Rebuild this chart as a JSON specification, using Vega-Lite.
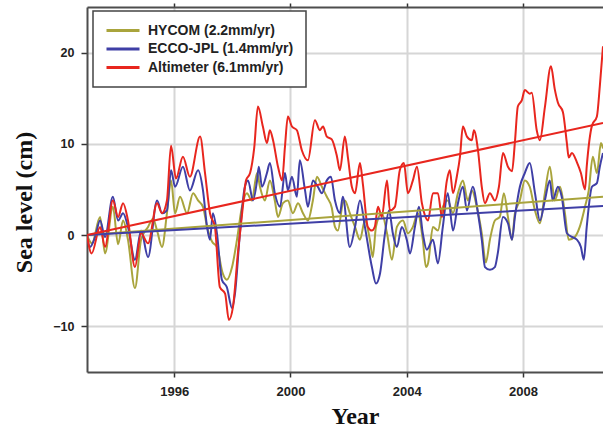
{
  "$schema": "https://vega.github.io/schema/vega-lite/v6.json",
  "width": 516,
  "height": 365,
  "autosize": {"type": "none"},
  "padding": {"left": 87, "top": 7, "right": 0, "bottom": 57},
  "background": "white",
  "datasets": {
    "series": [
      {"source": "HYCOM (2.2mm/yr)", "year": 1993.00, "level": 0.0},
      {"source": "HYCOM (2.2mm/yr)", "year": 1993.17, "level": -0.9},
      {"source": "HYCOM (2.2mm/yr)", "year": 1993.45, "level": 2.0},
      {"source": "HYCOM (2.2mm/yr)", "year": 1993.62, "level": -2.0},
      {"source": "HYCOM (2.2mm/yr)", "year": 1993.89, "level": 3.1},
      {"source": "HYCOM (2.2mm/yr)", "year": 1994.07, "level": -1.0},
      {"source": "HYCOM (2.2mm/yr)", "year": 1994.24, "level": 1.6},
      {"source": "HYCOM (2.2mm/yr)", "year": 1994.41, "level": -0.5},
      {"source": "HYCOM (2.2mm/yr)", "year": 1994.65, "level": -5.8},
      {"source": "HYCOM (2.2mm/yr)", "year": 1994.86, "level": -0.5},
      {"source": "HYCOM (2.2mm/yr)", "year": 1995.10, "level": 0.9},
      {"source": "HYCOM (2.2mm/yr)", "year": 1995.27, "level": 1.8},
      {"source": "HYCOM (2.2mm/yr)", "year": 1995.41, "level": 0.5},
      {"source": "HYCOM (2.2mm/yr)", "year": 1995.58, "level": -1.3},
      {"source": "HYCOM (2.2mm/yr)", "year": 1995.75, "level": 2.4},
      {"source": "HYCOM (2.2mm/yr)", "year": 1995.89, "level": 6.0},
      {"source": "HYCOM (2.2mm/yr)", "year": 1996.03, "level": 2.4},
      {"source": "HYCOM (2.2mm/yr)", "year": 1996.20, "level": 4.2},
      {"source": "HYCOM (2.2mm/yr)", "year": 1996.44, "level": 2.4},
      {"source": "HYCOM (2.2mm/yr)", "year": 1996.65, "level": 4.6},
      {"source": "HYCOM (2.2mm/yr)", "year": 1996.82, "level": 3.8},
      {"source": "HYCOM (2.2mm/yr)", "year": 1996.99, "level": 3.1},
      {"source": "HYCOM (2.2mm/yr)", "year": 1997.13, "level": 0.9},
      {"source": "HYCOM (2.2mm/yr)", "year": 1997.30, "level": -0.7},
      {"source": "HYCOM (2.2mm/yr)", "year": 1997.47, "level": -1.3},
      {"source": "HYCOM (2.2mm/yr)", "year": 1997.67, "level": -4.2},
      {"source": "HYCOM (2.2mm/yr)", "year": 1997.81, "level": -4.9},
      {"source": "HYCOM (2.2mm/yr)", "year": 1997.99, "level": -3.5},
      {"source": "HYCOM (2.2mm/yr)", "year": 1998.16, "level": -0.5},
      {"source": "HYCOM (2.2mm/yr)", "year": 1998.33, "level": 3.1},
      {"source": "HYCOM (2.2mm/yr)", "year": 1998.50, "level": 4.6},
      {"source": "HYCOM (2.2mm/yr)", "year": 1998.67, "level": 3.8},
      {"source": "HYCOM (2.2mm/yr)", "year": 1998.85, "level": 6.8},
      {"source": "HYCOM (2.2mm/yr)", "year": 1998.95, "level": 5.3},
      {"source": "HYCOM (2.2mm/yr)", "year": 1999.12, "level": 3.8},
      {"source": "HYCOM (2.2mm/yr)", "year": 1999.29, "level": 6.0},
      {"source": "HYCOM (2.2mm/yr)", "year": 1999.46, "level": 3.8},
      {"source": "HYCOM (2.2mm/yr)", "year": 1999.57, "level": 2.0},
      {"source": "HYCOM (2.2mm/yr)", "year": 1999.74, "level": 3.5},
      {"source": "HYCOM (2.2mm/yr)", "year": 1999.91, "level": 3.8},
      {"source": "HYCOM (2.2mm/yr)", "year": 2000.08, "level": 2.4},
      {"source": "HYCOM (2.2mm/yr)", "year": 2000.26, "level": 3.5},
      {"source": "HYCOM (2.2mm/yr)", "year": 2000.43, "level": 2.4},
      {"source": "HYCOM (2.2mm/yr)", "year": 2000.60, "level": 1.6},
      {"source": "HYCOM (2.2mm/yr)", "year": 2000.77, "level": 3.8},
      {"source": "HYCOM (2.2mm/yr)", "year": 2000.91, "level": 6.4},
      {"source": "HYCOM (2.2mm/yr)", "year": 2001.08, "level": 5.3},
      {"source": "HYCOM (2.2mm/yr)", "year": 2001.25, "level": 4.2},
      {"source": "HYCOM (2.2mm/yr)", "year": 2001.42, "level": 3.0},
      {"source": "HYCOM (2.2mm/yr)", "year": 2001.53, "level": 0.9},
      {"source": "HYCOM (2.2mm/yr)", "year": 2001.63, "level": 0.5},
      {"source": "HYCOM (2.2mm/yr)", "year": 2001.80, "level": 3.5},
      {"source": "HYCOM (2.2mm/yr)", "year": 2001.87, "level": 3.8},
      {"source": "HYCOM (2.2mm/yr)", "year": 2002.04, "level": 2.4},
      {"source": "HYCOM (2.2mm/yr)", "year": 2002.22, "level": 0.9},
      {"source": "HYCOM (2.2mm/yr)", "year": 2002.39, "level": -0.5},
      {"source": "HYCOM (2.2mm/yr)", "year": 2002.56, "level": 1.6},
      {"source": "HYCOM (2.2mm/yr)", "year": 2002.73, "level": -0.5},
      {"source": "HYCOM (2.2mm/yr)", "year": 2002.83, "level": -2.4},
      {"source": "HYCOM (2.2mm/yr)", "year": 2002.94, "level": 0.9},
      {"source": "HYCOM (2.2mm/yr)", "year": 2003.14, "level": 2.4},
      {"source": "HYCOM (2.2mm/yr)", "year": 2003.32, "level": 0.2},
      {"source": "HYCOM (2.2mm/yr)", "year": 2003.49, "level": -2.7},
      {"source": "HYCOM (2.2mm/yr)", "year": 2003.66, "level": 0.9},
      {"source": "HYCOM (2.2mm/yr)", "year": 2003.87, "level": 1.6},
      {"source": "HYCOM (2.2mm/yr)", "year": 2004.04, "level": 0.2},
      {"source": "HYCOM (2.2mm/yr)", "year": 2004.21, "level": 0.9},
      {"source": "HYCOM (2.2mm/yr)", "year": 2004.38, "level": 2.4},
      {"source": "HYCOM (2.2mm/yr)", "year": 2004.55, "level": -0.5},
      {"source": "HYCOM (2.2mm/yr)", "year": 2004.66, "level": -3.5},
      {"source": "HYCOM (2.2mm/yr)", "year": 2004.73, "level": -3.1},
      {"source": "HYCOM (2.2mm/yr)", "year": 2004.90, "level": 0.9},
      {"source": "HYCOM (2.2mm/yr)", "year": 2005.07, "level": 0.5},
      {"source": "HYCOM (2.2mm/yr)", "year": 2005.24, "level": 3.1},
      {"source": "HYCOM (2.2mm/yr)", "year": 2005.41, "level": 3.8},
      {"source": "HYCOM (2.2mm/yr)", "year": 2005.59, "level": 2.4},
      {"source": "HYCOM (2.2mm/yr)", "year": 2005.76, "level": 4.6},
      {"source": "HYCOM (2.2mm/yr)", "year": 2005.93, "level": 6.0},
      {"source": "HYCOM (2.2mm/yr)", "year": 2006.10, "level": 3.8},
      {"source": "HYCOM (2.2mm/yr)", "year": 2006.24, "level": 4.9},
      {"source": "HYCOM (2.2mm/yr)", "year": 2006.41, "level": 3.1},
      {"source": "HYCOM (2.2mm/yr)", "year": 2006.58, "level": 0.2},
      {"source": "HYCOM (2.2mm/yr)", "year": 2006.72, "level": -3.0},
      {"source": "HYCOM (2.2mm/yr)", "year": 2006.86, "level": -0.5},
      {"source": "HYCOM (2.2mm/yr)", "year": 2007.03, "level": 1.6},
      {"source": "HYCOM (2.2mm/yr)", "year": 2007.20, "level": 2.0},
      {"source": "HYCOM (2.2mm/yr)", "year": 2007.34, "level": 4.6},
      {"source": "HYCOM (2.2mm/yr)", "year": 2007.48, "level": 2.0},
      {"source": "HYCOM (2.2mm/yr)", "year": 2007.62, "level": -0.5},
      {"source": "HYCOM (2.2mm/yr)", "year": 2007.72, "level": 2.4},
      {"source": "HYCOM (2.2mm/yr)", "year": 2007.89, "level": 3.8},
      {"source": "HYCOM (2.2mm/yr)", "year": 2008.06, "level": 6.0},
      {"source": "HYCOM (2.2mm/yr)", "year": 2008.23, "level": 5.3},
      {"source": "HYCOM (2.2mm/yr)", "year": 2008.41, "level": 2.7},
      {"source": "HYCOM (2.2mm/yr)", "year": 2008.58, "level": 1.3},
      {"source": "HYCOM (2.2mm/yr)", "year": 2008.75, "level": 4.6},
      {"source": "HYCOM (2.2mm/yr)", "year": 2008.92, "level": 7.5},
      {"source": "HYCOM (2.2mm/yr)", "year": 2009.09, "level": 3.8},
      {"source": "HYCOM (2.2mm/yr)", "year": 2009.27, "level": 5.3},
      {"source": "HYCOM (2.2mm/yr)", "year": 2009.44, "level": 2.4},
      {"source": "HYCOM (2.2mm/yr)", "year": 2009.57, "level": -0.5},
      {"source": "HYCOM (2.2mm/yr)", "year": 2009.78, "level": -0.2},
      {"source": "HYCOM (2.2mm/yr)", "year": 2009.95, "level": 0.9},
      {"source": "HYCOM (2.2mm/yr)", "year": 2010.13, "level": 3.1},
      {"source": "HYCOM (2.2mm/yr)", "year": 2010.26, "level": 4.9},
      {"source": "HYCOM (2.2mm/yr)", "year": 2010.40, "level": 8.6},
      {"source": "HYCOM (2.2mm/yr)", "year": 2010.54, "level": 6.8},
      {"source": "HYCOM (2.2mm/yr)", "year": 2010.68, "level": 10.1},
      {"source": "HYCOM (2.2mm/yr)", "year": 2010.75, "level": 9.5},

      {"source": "ECCO-JPL (1.4mm/yr)", "year": 1993.00, "level": 0.0},
      {"source": "ECCO-JPL (1.4mm/yr)", "year": 1993.10, "level": -1.3},
      {"source": "ECCO-JPL (1.4mm/yr)", "year": 1993.28, "level": -0.2},
      {"source": "ECCO-JPL (1.4mm/yr)", "year": 1993.45, "level": 1.6},
      {"source": "ECCO-JPL (1.4mm/yr)", "year": 1993.62, "level": -0.2},
      {"source": "ECCO-JPL (1.4mm/yr)", "year": 1993.89, "level": 4.2},
      {"source": "ECCO-JPL (1.4mm/yr)", "year": 1994.07, "level": 1.6},
      {"source": "ECCO-JPL (1.4mm/yr)", "year": 1994.24, "level": 2.4},
      {"source": "ECCO-JPL (1.4mm/yr)", "year": 1994.41, "level": 0.9},
      {"source": "ECCO-JPL (1.4mm/yr)", "year": 1994.65, "level": -2.7},
      {"source": "ECCO-JPL (1.4mm/yr)", "year": 1994.86, "level": 0.5},
      {"source": "ECCO-JPL (1.4mm/yr)", "year": 1995.10, "level": -2.4},
      {"source": "ECCO-JPL (1.4mm/yr)", "year": 1995.41, "level": 3.8},
      {"source": "ECCO-JPL (1.4mm/yr)", "year": 1995.58, "level": 2.4},
      {"source": "ECCO-JPL (1.4mm/yr)", "year": 1995.75, "level": 2.7},
      {"source": "ECCO-JPL (1.4mm/yr)", "year": 1995.89, "level": 7.1},
      {"source": "ECCO-JPL (1.4mm/yr)", "year": 1996.03, "level": 5.3},
      {"source": "ECCO-JPL (1.4mm/yr)", "year": 1996.30, "level": 7.5},
      {"source": "ECCO-JPL (1.4mm/yr)", "year": 1996.54, "level": 4.9},
      {"source": "ECCO-JPL (1.4mm/yr)", "year": 1996.82, "level": 7.1},
      {"source": "ECCO-JPL (1.4mm/yr)", "year": 1996.99, "level": 4.9},
      {"source": "ECCO-JPL (1.4mm/yr)", "year": 1997.13, "level": 0.9},
      {"source": "ECCO-JPL (1.4mm/yr)", "year": 1997.23, "level": -0.5},
      {"source": "ECCO-JPL (1.4mm/yr)", "year": 1997.33, "level": 2.4},
      {"source": "ECCO-JPL (1.4mm/yr)", "year": 1997.47, "level": 0.2},
      {"source": "ECCO-JPL (1.4mm/yr)", "year": 1997.64, "level": -4.9},
      {"source": "ECCO-JPL (1.4mm/yr)", "year": 1997.81, "level": -5.7},
      {"source": "ECCO-JPL (1.4mm/yr)", "year": 1997.99, "level": -8.0},
      {"source": "ECCO-JPL (1.4mm/yr)", "year": 1998.09, "level": -6.4},
      {"source": "ECCO-JPL (1.4mm/yr)", "year": 1998.26, "level": 0.2},
      {"source": "ECCO-JPL (1.4mm/yr)", "year": 1998.43, "level": 5.3},
      {"source": "ECCO-JPL (1.4mm/yr)", "year": 1998.54, "level": 6.0},
      {"source": "ECCO-JPL (1.4mm/yr)", "year": 1998.71, "level": 3.8},
      {"source": "ECCO-JPL (1.4mm/yr)", "year": 1998.85, "level": 6.0},
      {"source": "ECCO-JPL (1.4mm/yr)", "year": 1998.91, "level": 7.5},
      {"source": "ECCO-JPL (1.4mm/yr)", "year": 1999.02, "level": 5.3},
      {"source": "ECCO-JPL (1.4mm/yr)", "year": 1999.19, "level": 6.8},
      {"source": "ECCO-JPL (1.4mm/yr)", "year": 1999.29, "level": 7.9},
      {"source": "ECCO-JPL (1.4mm/yr)", "year": 1999.46, "level": 4.6},
      {"source": "ECCO-JPL (1.4mm/yr)", "year": 1999.64, "level": 3.1},
      {"source": "ECCO-JPL (1.4mm/yr)", "year": 1999.81, "level": 6.8},
      {"source": "ECCO-JPL (1.4mm/yr)", "year": 1999.91, "level": 4.9},
      {"source": "ECCO-JPL (1.4mm/yr)", "year": 2000.05, "level": 6.4},
      {"source": "ECCO-JPL (1.4mm/yr)", "year": 2000.22, "level": 4.2},
      {"source": "ECCO-JPL (1.4mm/yr)", "year": 2000.32, "level": 8.2},
      {"source": "ECCO-JPL (1.4mm/yr)", "year": 2000.50, "level": 4.9},
      {"source": "ECCO-JPL (1.4mm/yr)", "year": 2000.60, "level": 3.1},
      {"source": "ECCO-JPL (1.4mm/yr)", "year": 2000.77, "level": 6.0},
      {"source": "ECCO-JPL (1.4mm/yr)", "year": 2000.94, "level": 5.3},
      {"source": "ECCO-JPL (1.4mm/yr)", "year": 2001.08, "level": 4.6},
      {"source": "ECCO-JPL (1.4mm/yr)", "year": 2001.25, "level": 6.0},
      {"source": "ECCO-JPL (1.4mm/yr)", "year": 2001.39, "level": 6.4},
      {"source": "ECCO-JPL (1.4mm/yr)", "year": 2001.53, "level": 3.8},
      {"source": "ECCO-JPL (1.4mm/yr)", "year": 2001.70, "level": 2.4},
      {"source": "ECCO-JPL (1.4mm/yr)", "year": 2001.80, "level": 4.2},
      {"source": "ECCO-JPL (1.4mm/yr)", "year": 2002.04, "level": -1.3},
      {"source": "ECCO-JPL (1.4mm/yr)", "year": 2002.22, "level": 0.9},
      {"source": "ECCO-JPL (1.4mm/yr)", "year": 2002.39, "level": 3.8},
      {"source": "ECCO-JPL (1.4mm/yr)", "year": 2002.56, "level": 0.9},
      {"source": "ECCO-JPL (1.4mm/yr)", "year": 2002.80, "level": -3.5},
      {"source": "ECCO-JPL (1.4mm/yr)", "year": 2002.94, "level": -5.3},
      {"source": "ECCO-JPL (1.4mm/yr)", "year": 2003.08, "level": -4.2},
      {"source": "ECCO-JPL (1.4mm/yr)", "year": 2003.25, "level": 0.2},
      {"source": "ECCO-JPL (1.4mm/yr)", "year": 2003.39, "level": 2.7},
      {"source": "ECCO-JPL (1.4mm/yr)", "year": 2003.52, "level": 0.2},
      {"source": "ECCO-JPL (1.4mm/yr)", "year": 2003.66, "level": -1.3},
      {"source": "ECCO-JPL (1.4mm/yr)", "year": 2003.83, "level": 0.9},
      {"source": "ECCO-JPL (1.4mm/yr)", "year": 2004.00, "level": -0.5},
      {"source": "ECCO-JPL (1.4mm/yr)", "year": 2004.11, "level": -2.0},
      {"source": "ECCO-JPL (1.4mm/yr)", "year": 2004.28, "level": 0.9},
      {"source": "ECCO-JPL (1.4mm/yr)", "year": 2004.42, "level": 3.1},
      {"source": "ECCO-JPL (1.4mm/yr)", "year": 2004.55, "level": 0.2},
      {"source": "ECCO-JPL (1.4mm/yr)", "year": 2004.69, "level": -1.6},
      {"source": "ECCO-JPL (1.4mm/yr)", "year": 2004.90, "level": -0.5},
      {"source": "ECCO-JPL (1.4mm/yr)", "year": 2005.07, "level": -3.1},
      {"source": "ECCO-JPL (1.4mm/yr)", "year": 2005.24, "level": 0.9},
      {"source": "ECCO-JPL (1.4mm/yr)", "year": 2005.41, "level": 4.6},
      {"source": "ECCO-JPL (1.4mm/yr)", "year": 2005.59, "level": 0.5},
      {"source": "ECCO-JPL (1.4mm/yr)", "year": 2005.76, "level": 3.5},
      {"source": "ECCO-JPL (1.4mm/yr)", "year": 2005.93, "level": 5.3},
      {"source": "ECCO-JPL (1.4mm/yr)", "year": 2006.07, "level": 2.7},
      {"source": "ECCO-JPL (1.4mm/yr)", "year": 2006.27, "level": 5.3},
      {"source": "ECCO-JPL (1.4mm/yr)", "year": 2006.45, "level": 2.4},
      {"source": "ECCO-JPL (1.4mm/yr)", "year": 2006.58, "level": -0.5},
      {"source": "ECCO-JPL (1.4mm/yr)", "year": 2006.69, "level": -3.5},
      {"source": "ECCO-JPL (1.4mm/yr)", "year": 2006.86, "level": -3.8},
      {"source": "ECCO-JPL (1.4mm/yr)", "year": 2007.03, "level": -3.5},
      {"source": "ECCO-JPL (1.4mm/yr)", "year": 2007.13, "level": -2.0},
      {"source": "ECCO-JPL (1.4mm/yr)", "year": 2007.31, "level": 2.0},
      {"source": "ECCO-JPL (1.4mm/yr)", "year": 2007.48, "level": 1.3},
      {"source": "ECCO-JPL (1.4mm/yr)", "year": 2007.62, "level": -0.5},
      {"source": "ECCO-JPL (1.4mm/yr)", "year": 2007.72, "level": 2.0},
      {"source": "ECCO-JPL (1.4mm/yr)", "year": 2007.89, "level": 5.3},
      {"source": "ECCO-JPL (1.4mm/yr)", "year": 2008.06, "level": 6.8},
      {"source": "ECCO-JPL (1.4mm/yr)", "year": 2008.23, "level": 7.9},
      {"source": "ECCO-JPL (1.4mm/yr)", "year": 2008.41, "level": 4.6},
      {"source": "ECCO-JPL (1.4mm/yr)", "year": 2008.58, "level": 1.6},
      {"source": "ECCO-JPL (1.4mm/yr)", "year": 2008.75, "level": 3.8},
      {"source": "ECCO-JPL (1.4mm/yr)", "year": 2008.92, "level": 6.0},
      {"source": "ECCO-JPL (1.4mm/yr)", "year": 2009.02, "level": 3.8},
      {"source": "ECCO-JPL (1.4mm/yr)", "year": 2009.20, "level": 5.3},
      {"source": "ECCO-JPL (1.4mm/yr)", "year": 2009.33, "level": 4.2},
      {"source": "ECCO-JPL (1.4mm/yr)", "year": 2009.51, "level": 0.2},
      {"source": "ECCO-JPL (1.4mm/yr)", "year": 2009.68, "level": -0.2},
      {"source": "ECCO-JPL (1.4mm/yr)", "year": 2009.85, "level": -0.5},
      {"source": "ECCO-JPL (1.4mm/yr)", "year": 2009.99, "level": -1.3},
      {"source": "ECCO-JPL (1.4mm/yr)", "year": 2010.09, "level": -2.7},
      {"source": "ECCO-JPL (1.4mm/yr)", "year": 2010.19, "level": 0.9},
      {"source": "ECCO-JPL (1.4mm/yr)", "year": 2010.37, "level": 5.3},
      {"source": "ECCO-JPL (1.4mm/yr)", "year": 2010.54, "level": 5.7},
      {"source": "ECCO-JPL (1.4mm/yr)", "year": 2010.64, "level": 7.5},
      {"source": "ECCO-JPL (1.4mm/yr)", "year": 2010.75, "level": 9.0},

      {"source": "Altimeter (6.1mm/yr)", "year": 1993.00, "level": 0.0},
      {"source": "Altimeter (6.1mm/yr)", "year": 1993.16, "level": -2.0},
      {"source": "Altimeter (6.1mm/yr)", "year": 1993.45, "level": 0.9},
      {"source": "Altimeter (6.1mm/yr)", "year": 1993.62, "level": -1.3},
      {"source": "Altimeter (6.1mm/yr)", "year": 1993.89, "level": 3.8},
      {"source": "Altimeter (6.1mm/yr)", "year": 1994.07, "level": 2.0},
      {"source": "Altimeter (6.1mm/yr)", "year": 1994.24, "level": 3.5},
      {"source": "Altimeter (6.1mm/yr)", "year": 1994.41, "level": 1.6},
      {"source": "Altimeter (6.1mm/yr)", "year": 1994.65, "level": -3.5},
      {"source": "Altimeter (6.1mm/yr)", "year": 1994.86, "level": 0.2},
      {"source": "Altimeter (6.1mm/yr)", "year": 1995.10, "level": -0.9},
      {"source": "Altimeter (6.1mm/yr)", "year": 1995.41, "level": 3.5},
      {"source": "Altimeter (6.1mm/yr)", "year": 1995.58, "level": 2.4},
      {"source": "Altimeter (6.1mm/yr)", "year": 1995.75, "level": 3.8},
      {"source": "Altimeter (6.1mm/yr)", "year": 1995.89, "level": 9.8},
      {"source": "Altimeter (6.1mm/yr)", "year": 1996.06, "level": 6.2},
      {"source": "Altimeter (6.1mm/yr)", "year": 1996.30, "level": 8.6},
      {"source": "Altimeter (6.1mm/yr)", "year": 1996.54, "level": 6.4},
      {"source": "Altimeter (6.1mm/yr)", "year": 1996.89, "level": 10.8},
      {"source": "Altimeter (6.1mm/yr)", "year": 1997.06, "level": 6.8},
      {"source": "Altimeter (6.1mm/yr)", "year": 1997.23, "level": 2.4},
      {"source": "Altimeter (6.1mm/yr)", "year": 1997.40, "level": 0.9},
      {"source": "Altimeter (6.1mm/yr)", "year": 1997.57, "level": -5.7},
      {"source": "Altimeter (6.1mm/yr)", "year": 1997.75, "level": -6.4},
      {"source": "Altimeter (6.1mm/yr)", "year": 1997.88, "level": -9.3},
      {"source": "Altimeter (6.1mm/yr)", "year": 1998.02, "level": -7.9},
      {"source": "Altimeter (6.1mm/yr)", "year": 1998.19, "level": -2.0},
      {"source": "Altimeter (6.1mm/yr)", "year": 1998.36, "level": 3.1},
      {"source": "Altimeter (6.1mm/yr)", "year": 1998.47, "level": 6.0},
      {"source": "Altimeter (6.1mm/yr)", "year": 1998.61, "level": 6.8},
      {"source": "Altimeter (6.1mm/yr)", "year": 1998.75, "level": 9.5},
      {"source": "Altimeter (6.1mm/yr)", "year": 1998.88, "level": 14.1},
      {"source": "Altimeter (6.1mm/yr)", "year": 1999.05, "level": 11.9},
      {"source": "Altimeter (6.1mm/yr)", "year": 1999.19, "level": 10.1},
      {"source": "Altimeter (6.1mm/yr)", "year": 1999.29, "level": 11.5},
      {"source": "Altimeter (6.1mm/yr)", "year": 1999.40, "level": 10.4},
      {"source": "Altimeter (6.1mm/yr)", "year": 1999.57, "level": 7.5},
      {"source": "Altimeter (6.1mm/yr)", "year": 1999.71, "level": 6.0},
      {"source": "Altimeter (6.1mm/yr)", "year": 1999.81, "level": 9.7},
      {"source": "Altimeter (6.1mm/yr)", "year": 1999.91, "level": 13.0},
      {"source": "Altimeter (6.1mm/yr)", "year": 2000.05, "level": 11.9},
      {"source": "Altimeter (6.1mm/yr)", "year": 2000.22, "level": 11.5},
      {"source": "Altimeter (6.1mm/yr)", "year": 2000.39, "level": 9.3},
      {"source": "Altimeter (6.1mm/yr)", "year": 2000.60, "level": 8.2},
      {"source": "Altimeter (6.1mm/yr)", "year": 2000.84, "level": 12.6},
      {"source": "Altimeter (6.1mm/yr)", "year": 2001.01, "level": 11.5},
      {"source": "Altimeter (6.1mm/yr)", "year": 2001.12, "level": 11.9},
      {"source": "Altimeter (6.1mm/yr)", "year": 2001.25, "level": 10.8},
      {"source": "Altimeter (6.1mm/yr)", "year": 2001.42, "level": 10.5},
      {"source": "Altimeter (6.1mm/yr)", "year": 2001.60, "level": 8.6},
      {"source": "Altimeter (6.1mm/yr)", "year": 2001.70, "level": 7.1},
      {"source": "Altimeter (6.1mm/yr)", "year": 2001.87, "level": 10.8},
      {"source": "Altimeter (6.1mm/yr)", "year": 2001.98, "level": 8.4},
      {"source": "Altimeter (6.1mm/yr)", "year": 2002.11, "level": 5.3},
      {"source": "Altimeter (6.1mm/yr)", "year": 2002.22, "level": 4.6},
      {"source": "Altimeter (6.1mm/yr)", "year": 2002.39, "level": 7.9},
      {"source": "Altimeter (6.1mm/yr)", "year": 2002.49, "level": 5.6},
      {"source": "Altimeter (6.1mm/yr)", "year": 2002.66, "level": 0.9},
      {"source": "Altimeter (6.1mm/yr)", "year": 2002.80, "level": 0.5},
      {"source": "Altimeter (6.1mm/yr)", "year": 2002.90, "level": 0.9},
      {"source": "Altimeter (6.1mm/yr)", "year": 2003.01, "level": 3.1},
      {"source": "Altimeter (6.1mm/yr)", "year": 2003.14, "level": 2.0},
      {"source": "Altimeter (6.1mm/yr)", "year": 2003.32, "level": 6.0},
      {"source": "Altimeter (6.1mm/yr)", "year": 2003.42, "level": 2.7},
      {"source": "Altimeter (6.1mm/yr)", "year": 2003.59, "level": 3.1},
      {"source": "Altimeter (6.1mm/yr)", "year": 2003.76, "level": 7.1},
      {"source": "Altimeter (6.1mm/yr)", "year": 2003.90, "level": 7.9},
      {"source": "Altimeter (6.1mm/yr)", "year": 2004.04, "level": 4.6},
      {"source": "Altimeter (6.1mm/yr)", "year": 2004.21, "level": 6.0},
      {"source": "Altimeter (6.1mm/yr)", "year": 2004.35, "level": 7.5},
      {"source": "Altimeter (6.1mm/yr)", "year": 2004.52, "level": 3.5},
      {"source": "Altimeter (6.1mm/yr)", "year": 2004.62, "level": 2.2},
      {"source": "Altimeter (6.1mm/yr)", "year": 2004.73, "level": 1.6},
      {"source": "Altimeter (6.1mm/yr)", "year": 2004.90, "level": 4.6},
      {"source": "Altimeter (6.1mm/yr)", "year": 2005.07, "level": 4.6},
      {"source": "Altimeter (6.1mm/yr)", "year": 2005.21, "level": 2.0},
      {"source": "Altimeter (6.1mm/yr)", "year": 2005.38, "level": 6.0},
      {"source": "Altimeter (6.1mm/yr)", "year": 2005.48, "level": 7.1},
      {"source": "Altimeter (6.1mm/yr)", "year": 2005.59, "level": 4.6},
      {"source": "Altimeter (6.1mm/yr)", "year": 2005.72, "level": 6.4},
      {"source": "Altimeter (6.1mm/yr)", "year": 2005.83, "level": 8.6},
      {"source": "Altimeter (6.1mm/yr)", "year": 2005.93, "level": 11.9},
      {"source": "Altimeter (6.1mm/yr)", "year": 2006.07, "level": 10.8},
      {"source": "Altimeter (6.1mm/yr)", "year": 2006.24, "level": 10.4},
      {"source": "Altimeter (6.1mm/yr)", "year": 2006.31, "level": 11.5},
      {"source": "Altimeter (6.1mm/yr)", "year": 2006.45, "level": 9.3},
      {"source": "Altimeter (6.1mm/yr)", "year": 2006.58, "level": 5.3},
      {"source": "Altimeter (6.1mm/yr)", "year": 2006.69, "level": 3.5},
      {"source": "Altimeter (6.1mm/yr)", "year": 2006.86, "level": 4.6},
      {"source": "Altimeter (6.1mm/yr)", "year": 2007.03, "level": 3.8},
      {"source": "Altimeter (6.1mm/yr)", "year": 2007.17, "level": 5.3},
      {"source": "Altimeter (6.1mm/yr)", "year": 2007.31, "level": 9.0},
      {"source": "Altimeter (6.1mm/yr)", "year": 2007.48, "level": 7.5},
      {"source": "Altimeter (6.1mm/yr)", "year": 2007.62, "level": 7.0},
      {"source": "Altimeter (6.1mm/yr)", "year": 2007.72, "level": 10.2},
      {"source": "Altimeter (6.1mm/yr)", "year": 2007.82, "level": 14.1},
      {"source": "Altimeter (6.1mm/yr)", "year": 2007.96, "level": 14.8},
      {"source": "Altimeter (6.1mm/yr)", "year": 2008.06, "level": 15.9},
      {"source": "Altimeter (6.1mm/yr)", "year": 2008.23, "level": 15.5},
      {"source": "Altimeter (6.1mm/yr)", "year": 2008.30, "level": 15.6},
      {"source": "Altimeter (6.1mm/yr)", "year": 2008.47, "level": 11.5},
      {"source": "Altimeter (6.1mm/yr)", "year": 2008.58, "level": 10.4},
      {"source": "Altimeter (6.1mm/yr)", "year": 2008.75, "level": 14.0},
      {"source": "Altimeter (6.1mm/yr)", "year": 2008.96, "level": 18.5},
      {"source": "Altimeter (6.1mm/yr)", "year": 2009.09, "level": 16.0},
      {"source": "Altimeter (6.1mm/yr)", "year": 2009.20, "level": 14.5},
      {"source": "Altimeter (6.1mm/yr)", "year": 2009.37, "level": 13.5},
      {"source": "Altimeter (6.1mm/yr)", "year": 2009.51, "level": 10.0},
      {"source": "Altimeter (6.1mm/yr)", "year": 2009.57, "level": 8.5},
      {"source": "Altimeter (6.1mm/yr)", "year": 2009.68, "level": 9.0},
      {"source": "Altimeter (6.1mm/yr)", "year": 2009.85, "level": 8.0},
      {"source": "Altimeter (6.1mm/yr)", "year": 2009.99, "level": 6.8},
      {"source": "Altimeter (6.1mm/yr)", "year": 2010.13, "level": 5.0},
      {"source": "Altimeter (6.1mm/yr)", "year": 2010.19, "level": 7.5},
      {"source": "Altimeter (6.1mm/yr)", "year": 2010.37, "level": 12.0},
      {"source": "Altimeter (6.1mm/yr)", "year": 2010.54, "level": 13.0},
      {"source": "Altimeter (6.1mm/yr)", "year": 2010.64, "level": 16.3},
      {"source": "Altimeter (6.1mm/yr)", "year": 2010.75, "level": 20.7}
    ],
    "trend": [
      {"source": "HYCOM (2.2mm/yr)", "year": 1993.0, "level": 0.0},
      {"source": "HYCOM (2.2mm/yr)", "year": 2010.75, "level": 4.2},
      {"source": "ECCO-JPL (1.4mm/yr)", "year": 1993.0, "level": 0.0},
      {"source": "ECCO-JPL (1.4mm/yr)", "year": 2010.75, "level": 3.2},
      {"source": "Altimeter (6.1mm/yr)", "year": 1993.0, "level": 0.0},
      {"source": "Altimeter (6.1mm/yr)", "year": 2010.75, "level": 12.3}
    ]
  },
  "layer": [
    {
      "data": {"name": "series"},
      "mark": {"type": "line", "strokeWidth": 2, "clip": true, "interpolate": "monotone"},
      "encoding": {
        "x": {
          "field": "year", "type": "quantitative",
          "scale": {"domain": [1993, 2010.75], "nice": false, "zero": false},
          "axis": {
            "values": [1996, 2000, 2004, 2008], "format": "d",
            "title": "Year", "titleFontSize": 24,
            "titleX": 268, "titleY": 51, "titleBaseline": "alphabetic", "titleAlign": "center",
            "labelFontSize": 13, "tickSize": 5, "labelPadding": 8
          }
        },
        "y": {
          "field": "level", "type": "quantitative",
          "scale": {"domain": [-15, 25], "nice": false, "zero": false},
          "axis": {
            "values": [-10, 0, 10, 20],
            "title": "Sea level (cm)", "titleFontSize": 24,
            "titleX": -63, "titleY": 195, "titleAngle": 270, "titleAlign": "center", "titleBaseline": "middle",
            "labelFontSize": 12.5, "tickSize": 6, "labelPadding": 7
          }
        },
        "color": {
          "field": "source", "type": "nominal",
          "sort": ["HYCOM (2.2mm/yr)", "ECCO-JPL (1.4mm/yr)", "Altimeter (6.1mm/yr)"],
          "scale": {
            "domain": ["HYCOM (2.2mm/yr)", "ECCO-JPL (1.4mm/yr)", "Altimeter (6.1mm/yr)"],
            "range": ["#a9a43c", "#3f3fa6", "#e8261e"]
          },
          "legend": {
            "orient": "none", "legendX": 6, "legendY": 4, "title": null,
            "fillColor": "white", "strokeColor": "#444444", "padding": 12,
            "symbolType": "M-1,0H4.5", "symbolSize": 144, "symbolStrokeWidth": 3,
            "labelOffset": 28, "rowPadding": 3.5,
            "labelFont": "Liberation Sans", "labelFontWeight": "bold", "labelFontSize": 14, "labelColor": "#222222",
            "labelLimit": 300,
            "encode": {"legend": {"update": {"strokeWidth": {"value": 1.5}}}}
          }
        }
      }
    },
    {
      "data": {"name": "trend"},
      "mark": {"type": "line", "strokeWidth": 2, "clip": true},
      "encoding": {
        "x": {
          "field": "year", "type": "quantitative",
          "axis": {"orient": "top", "values": [1996, 2000, 2004, 2008], "labels": false, "grid": false, "title": null, "tickSize": 4}
        },
        "y": {"field": "level", "type": "quantitative"},
        "color": {"field": "source", "type": "nominal"}
      }
    }
  ],
  "resolve": {"axis": {"x": "independent"}},
  "config": {
    "view": {"stroke": null},
    "axis": {
      "domain": true, "domainColor": "#4d4d4d", "domainWidth": 2,
      "gridColor": "#d6d6d6", "gridWidth": 2,
      "tickColor": "#333333", "tickWidth": 1.5,
      "labelFont": "Liberation Sans", "labelFontWeight": "bold", "labelColor": "#222222",
      "titleFont": "Liberation Serif", "titleFontWeight": "bold", "titleColor": "#111111"
    }
  }
}
